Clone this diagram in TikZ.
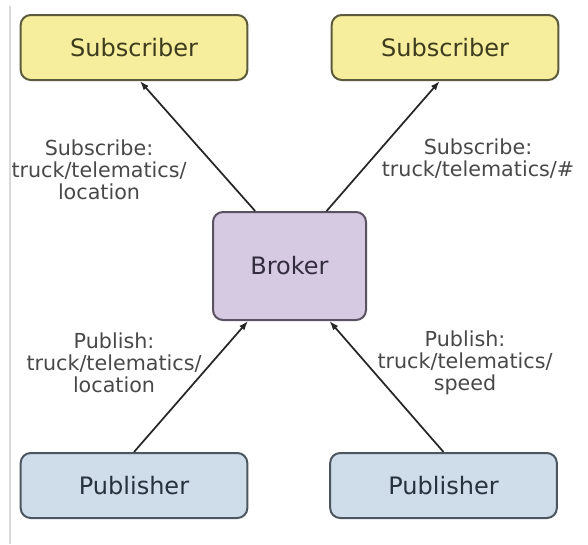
\documentclass[tikz,border=0pt]{standalone}
\usepackage{fontspec}
\setmainfont{DejaVu Sans}
\usetikzlibrary{arrows.meta}

\definecolor{subfill}{HTML}{F6EE9C}
\definecolor{subdraw}{HTML}{5C5A3C}
\definecolor{subtext}{HTML}{3E3B1E}
\definecolor{brkfill}{HTML}{D6CAE2}
\definecolor{brkdraw}{HTML}{5A5262}
\definecolor{brktext}{HTML}{332C3E}
\definecolor{pubfill}{HTML}{CEDDE9}
\definecolor{pubdraw}{HTML}{4C5660}
\definecolor{pubtext}{HTML}{26323E}
\definecolor{lbltext}{HTML}{484848}

\begin{document}
\begin{tikzpicture}[
    x=0.75pt, y=-0.75pt,
    box/.style={rectangle, draw, rounded corners=7.5pt, line width=1.5pt, font=\fontsize{18}{20}\selectfont, inner sep=0pt},
    subbox/.style={box, fill=subfill, draw=subdraw, text=subtext, minimum width=170pt, minimum height=48.75pt},
    pubbox/.style={box, fill=pubfill, draw=pubdraw, text=pubtext, minimum width=170pt, minimum height=48.75pt},
    brkbox/.style={box, fill=brkfill, draw=brkdraw, text=brktext, minimum width=114.75pt, minimum height=81pt},
    topic/.style={align=center, text=lbltext, font=\fontsize{15.5}{16.5}\selectfont, inner sep=0pt},
    relation/.style={-{Latex[length=7pt,width=5pt]}, line width=1.3pt, draw=black!85}
  ]

    \useasboundingbox (0,0) rectangle (588,544);
    \draw[black!15, line width=1.2pt] (10,6) -- (10,544);

    \node[brkbox] (broker) at (289.5,266) {Broker};

    \node[subbox] (subLeft) at (134,47.5) {Subscriber};
    \node[subbox] (subRight) at (445,47.5) {Subscriber};
    \node[pubbox] (pubLeft) at (134,485.5) {Publisher};
    \node[pubbox] (pubRight) at (443.5,485.5) {Publisher};

    \node[topic] (topicSubLeft) at (99,170) {Subscribe:\\truck/telematics/\\location};
    \node[topic] (topicSubRight) at (478,159) {Subscribe:\\truck/telematics/\#};
    \node[topic] (topicPubLeft) at (114,363) {Publish:\\truck/telematics/\\location};
    \node[topic] (topicPubRight) at (465,363) {Publish:\\truck/telematics/\\speed};

    \draw[relation] (broker.122.6) -- (subLeft.280.5);
    \draw[relation] (broker.56.7) -- (subRight.261.3);
    \draw[relation] (pubLeft.north) -- (broker.233.8);
    \draw[relation] (pubRight.north) -- (broker.306.9);
  \end{tikzpicture}
\end{document}
